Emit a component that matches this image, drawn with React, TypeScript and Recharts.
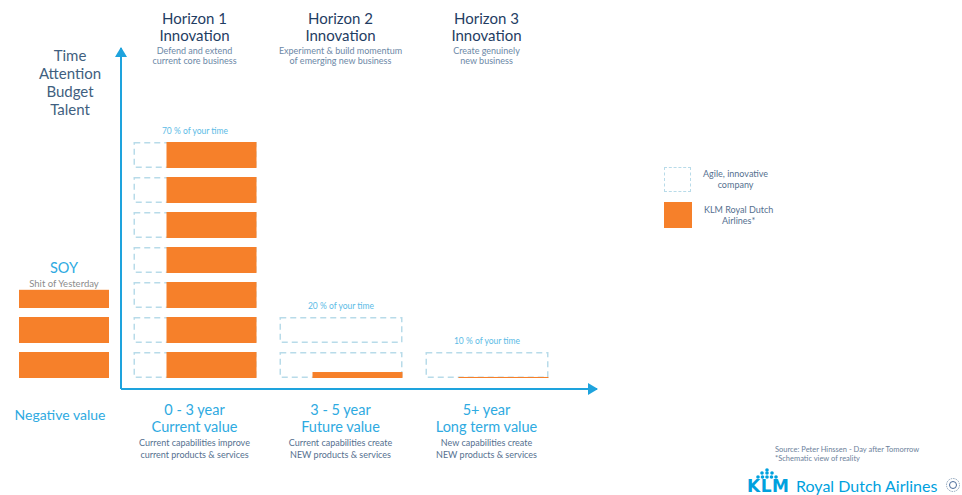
import React from 'react';
import { BarChart, Bar, XAxis, YAxis, Legend } from 'recharts';

const horizons = ['Horizon 1', 'Horizon 2', 'Horizon 3'];
const horizonNotes = [
  ['Defend and extend', 'current core business'],
  ['Experiment & build momentum', 'of emerging new business'],
  ['Create genuinely', 'new business'],
];
const valueTerms = ['0 - 3 year', '3 - 5 year', '5+ year'];
const valueKinds = ['Current value', 'Future value', 'Long term value'];
const valueNotes = [
  ['Current capabilities improve', 'current products & services'],
  ['Current capabilities create', 'NEW products & services'],
  ['New capabilities create', 'NEW products & services'],
];
const timeShares = [70, 20, 10];
// how much of each agile block KLM fills, bottom block first
const klmRowFill = [
  [1, 1, 1, 1, 1, 1, 1],
  [0.23, 0],
  [0.04],
];
const soyRowFill = [1, 1, 0.7];
const resources = ['Time', 'Attention', 'Budget', 'Talent'];
const legendItems = [
  { lines: ['Agile, innovative', 'company'], dashed: true },
  { lines: ['KLM Royal Dutch', 'Airlines*'], dashed: false },
];

const FONT = 'Lato, "Open Sans", sans-serif';
const ORANGE = '#f6802a';
const DASH = '#b8dbe9';
const AXIS = '#1ea3dd';
const NAVY = '#1f3d63';
const SUB = '#6c88a6';
const LIGHT = '#2eaae1';
const GREY_BLUE = '#55708f';

const MAX_ROWS = 7;
const rowKeys = Array.from({ length: MAX_ROWS }, (_, i) => `row${i}`);
const BLOCK = 26 / 35; // drawn block height inside one unit
const KLM_W = 90 / 123; // KLM part of an agile block

const mainData = horizons.map((name, h) => {
  const d: any = { name, share: timeShares[h], top: klmRowFill[h].length - 1 };
  klmRowFill[h].forEach((f, r) => {
    d[`row${r}`] = 1;
    d[`fill${r}`] = f;
  });
  return d;
});

const soyData = [(() => {
  const d: any = { name: 'SOY', top: soyRowFill.length - 1 };
  soyRowFill.forEach((f, r) => {
    d[`row${r}`] = 1;
    d[`fill${r}`] = f;
  });
  return d;
})()];

const makeBlock = (r: number, dashed: boolean) => (props: any) => {
  const { x, y, width, height, payload } = props;
  if (!height || height <= 0) return <g />;
  const boxH = height * BLOCK;
  const f = payload[`fill${r}`] ?? 0;
  const ow = dashed ? width * KLM_W : width;
  const oh = boxH * f;
  return (
    <g>
      {dashed && (
        <rect x={x + 0.75} y={y + 0.75} width={width - 1.5} height={boxH - 1.5} fill="none"
          stroke={DASH} strokeWidth={1.5} strokeDasharray="6 4" />
      )}
      {oh > 0 && <rect x={x + width - ow} y={y + boxH - oh} width={ow} height={oh} fill={ORANGE} />}
      {dashed && payload.top === r && (
        <text x={x + width / 2} y={y - 8} textAnchor="middle" fontSize={8.5} fill="#5cbbe6" fontFamily={FONT}>
          {`${payload.share} % of your time`}
        </text>
      )}
      {!dashed && payload.top === r && (
        <g fontFamily={FONT} textAnchor="middle">
          <text x={x + width / 2} y={y - 9} fontSize={14.5} fill={LIGHT}>SOY</text>
          <text x={x + width / 2} y={y + 5} fontSize={9.5} fill="#8c8c8c">Shit of Yesterday</text>
        </g>
      )}
    </g>
  );
};

const TopTick = (props: any) => {
  const { x, index } = props;
  const notes = horizonNotes[index] || [];
  return (
    <g fontFamily={FONT} textAnchor="middle">
      <text x={x} y={24} fontSize={15} fill={NAVY}>{horizons[index]}</text>
      <text x={x} y={41} fontSize={15} fill={NAVY}>Innovation</text>
      <text x={x} y={53.5} fontSize={9} fill={SUB}>{notes[0]}</text>
      <text x={x} y={64} fontSize={9} fill={SUB}>{notes[1]}</text>
    </g>
  );
};

const BottomTick = (props: any) => {
  const { x, index } = props;
  const notes = valueNotes[index] || [];
  return (
    <g fontFamily={FONT} textAnchor="middle">
      <text x={x} y={415} fontSize={14.5} fill={LIGHT}>{valueTerms[index]}</text>
      <text x={x} y={432} fontSize={14.5} fill={LIGHT}>{valueKinds[index]}</text>
      <text x={x} y={445.5} fontSize={9} fill={GREY_BLUE}>{notes[0]}</text>
      <text x={x} y={457.5} fontSize={9} fill={GREY_BLUE}>{notes[1]}</text>
    </g>
  );
};

const ResourceLabel = () => (
  <g fontFamily={FONT} textAnchor="middle">
    {resources.map((t, i) => (
      <text key={t} x={70} y={61 + i * 18} fontSize={15} fill="#3f5f80">{t}</text>
    ))}
  </g>
);

const LegendBox = () => (
  <div style={{ fontFamily: FONT }}>
    {legendItems.map((it, i) => (
      <div key={i} style={{ display: 'flex', alignItems: 'center', height: 26, marginBottom: 10 }}>
        <div style={{
          width: it.dashed ? 25 : 28, height: it.dashed ? 23 : 26, boxSizing: 'content-box',
          border: it.dashed ? `1.5px dashed ${DASH}` : 'none', background: it.dashed ? 'none' : ORANGE,
        }} />
        <div style={{ marginLeft: 12, fontSize: 9, lineHeight: '11px', color: GREY_BLUE, textAlign: 'center' }}>
          {it.lines.map(l => <div key={l}>{l}</div>)}
        </div>
      </div>
    ))}
  </div>
);

const Crown = () => (
  <svg width={24} height={12} style={{ position: 'absolute', left: 755, top: 468 }}>
    {[[12, 2], [7, 5], [12, 5], [17, 5], [3, 9], [7.5, 9], [12, 9], [16.5, 9], [21, 9]].map(([cx, cy], i) => (
      <circle key={i} cx={cx} cy={cy} r={1.8} fill="#00a1de" />
    ))}
  </svg>
);

export default function App() {
  return (
    <div style={{ position: 'absolute', left: 0, top: 0, width: 962, height: 495, background: '#fff', overflow: 'hidden' }}>
      <svg width={0} height={0} style={{ position: 'absolute' }}>
        <defs>
          <marker id="axisArrow" viewBox="0 0 10 12" refX={9} refY={6} markerWidth={10} markerHeight={12}
            markerUnits="userSpaceOnUse" orient="auto-start-reverse">
            <path d="M0,0 L10,6 L0,12 z" fill={AXIS} />
          </marker>
        </defs>
      </svg>

      <div style={{ position: 'absolute', left: 0, top: 0 }}>
        <BarChart width={121} height={495} data={soyData} margin={{ top: 48, right: 0, left: 7, bottom: 46 }}>
          <XAxis dataKey="name" height={60} axisLine={false} tickLine={false}
            tick={(p: any) => (
              <text x={p.x - 4} y={420} textAnchor="middle" fontSize={14} fill={LIGHT} fontFamily={FONT}>Negative value</text>
            )} />
          <YAxis hide type="number" domain={[0, 9]} padding={{ top: 24, bottom: 2 }} />
          {soyRowFill.map((_, r) => (
            <Bar key={r} dataKey={`row${r}`} stackId="soy" barSize={90} isAnimationActive={false}
              shape={makeBlock(r, false)} />
          ))}
        </BarChart>
      </div>

      <div style={{ position: 'absolute', left: 0, top: 0 }}>
        <BarChart width={962} height={495} data={mainData} margin={{ top: 18, right: 365, left: 61, bottom: 46 }}>
          <XAxis xAxisId="top" orientation="top" dataKey="name" height={30} axisLine={false} tickLine={false}
            interval={0} padding={{ left: 0.5, right: 37.5 }} tick={<TopTick />} />
          <XAxis dataKey="name" height={60} tickLine={false} interval={0} padding={{ left: 0.5, right: 37.5 }}
            axisLine={{ stroke: AXIS, strokeWidth: 2, markerEnd: 'url(#axisArrow)' }} tick={<BottomTick />} />
          <YAxis type="number" width={60} domain={[0, 9]} padding={{ top: 24, bottom: 2 }} tick={false} tickLine={false}
            axisLine={{ stroke: AXIS, strokeWidth: 2, markerStart: 'url(#axisArrow)' }}
            label={{ content: () => <ResourceLabel /> }} />
          {rowKeys.map((k, r) => (
            <Bar key={k} dataKey={k} stackId="agile" barSize={123} isAnimationActive={false}
              legendType="none" shape={makeBlock(r, true)} />
          ))}
          <Legend layout="horizontal" verticalAlign="middle" align="center" content={() => <LegendBox />}
            wrapperStyle={{ left: 664, top: 166, width: 160, height: 80 }} />
        </BarChart>
      </div>

      <div style={{ position: 'absolute', left: 775, top: 445, fontFamily: FONT, fontSize: 7.5, lineHeight: '9px', color: '#6c819b' }}>
        <div>Source: Peter Hinssen - Day after Tomorrow</div>
        <div>*Schematic view of reality</div>
      </div>
      <Crown />
      <div style={{ position: 'absolute', left: 747, top: 476, fontFamily: '"DejaVu Sans", sans-serif', fontWeight: 700, fontSize: 17, letterSpacing: 0.5, color: '#00a1de', lineHeight: '20px' }}>
        KLM
      </div>
      <div style={{ position: 'absolute', left: 796, top: 476, fontFamily: FONT, fontSize: 16, color: '#00a1de', lineHeight: '20px' }}>
        Royal Dutch Airlines
      </div>
      <svg width={16} height={16} style={{ position: 'absolute', left: 945, top: 477 }}>
        <circle cx={8} cy={8} r={6.5} fill="none" stroke="#8aa0b8" strokeWidth={1} strokeDasharray="1.5 1" />
        <circle cx={8} cy={8} r={3.5} fill="none" stroke="#4a6a9a" strokeWidth={1} />
      </svg>
    </div>
  );
}
